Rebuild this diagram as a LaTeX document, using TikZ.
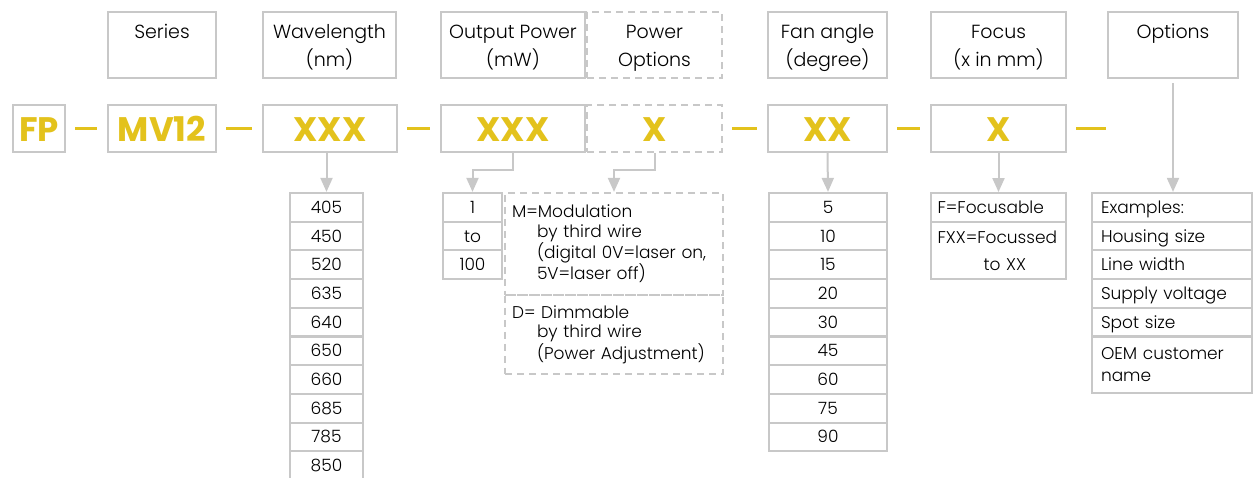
\documentclass[tikz,border=0pt]{standalone}
\usepackage{fontspec}
\setmainfont{Poppins}[UprightFont=* Light,BoldFont=* Bold]
\usetikzlibrary{arrows.meta}
\definecolor{boxgray}{RGB}{200,200,200}
\definecolor{codeyellow}{RGB}{227,194,28}

\begin{document}
\begin{tikzpicture}[x=1pt,y=-1pt,>={Triangle[width=12pt,length=14pt]},
  box/.style={draw=boxgray,line width=2.2pt,inner sep=0pt},
  dbox/.style={box,dash pattern=on 7pt off 5pt},
  head/.style={minimum height=66pt,align=center,text height=45pt,text depth=2pt,font=\fontsize{19}{28}\selectfont},
  code/.style={minimum height=47pt,text height=27pt,text depth=0pt,text=codeyellow,font=\fontsize{34}{34}\selectfont\bfseries},
  cell/.style={box,minimum height=28.7pt,font=\fontsize{17}{19.5}\selectfont},
  one/.style={text height=15pt,text depth=3pt},
  sep/.style={draw=codeyellow,line width=2.5pt,shorten <=9pt,shorten >=10pt},
  arr/.style={->,draw=boxgray,line width=2pt}]
  \useasboundingbox (0,0) rectangle (1259,478);
  \node[box,head,minimum width=108pt] (ser) at (162,45) {Series\\\mbox{}};
  \node[box,head,minimum width=133pt] (wl) at (329.5,45) {Wavelength\\(nm)};
  \node[box,head,minimum width=144pt] (op) at (513,45) {Output Power\\(mW)};
  \node[dbox,head,minimum width=135pt] (po) at (654.5,45) {Power\\Options};
  \node[box,head,minimum width=119pt] (fan) at (827.5,45) {Fan angle\\(degree)};
  \node[box,head,minimum width=135pt] (foc) at (998.5,45) {Focus\\(x in mm)};
  \node[box,head,minimum width=130pt] (opt) at (1173,45) {Options\\\mbox{}};

  \node[box,code,minimum width=52pt] (fpc) at (39,128.5) {FP};
  \node[box,code,minimum width=108pt] (mvc) at (162,128.5) {MV12};
  \node[box,code,minimum width=134pt] (wlc) at (330,128.5) {XXX};
  \node[box,code,minimum width=144pt] (opc) at (513,128.5) {XXX};
  \node[dbox,code,minimum width=135pt] (poc) at (654.5,128.5) {X};
  \node[box,code,minimum width=119pt] (fanc) at (827.5,128.5) {XX};
  \node[box,code,minimum width=135pt] (focc) at (998.5,128.5) {X};
  \coordinate (tail) at (1116,128.5);
  \draw[sep] (fpc) -- (mvc);
  \draw[sep] (mvc) -- (wlc);
  \draw[sep] (wlc) -- (opc);
  \draw[sep] (poc) -- (fanc);
  \draw[sep] (fanc) -- (focc);
  \draw[sep] (focc) -- (tail);

  \foreach \v [count=\i] in {405,450,520,635,640,650,660,685,785,850}
    \node[cell,one,minimum width=73pt] (wl\i) at (326.5,{193+(\i-0.5)*28.7}) {\v};
  \foreach \v [count=\i] in {1,to,100}
    \node[cell,one,minimum width=59pt] (pw\i) at (472.5,{193+(\i-0.5)*28.7}) {\v};
  \foreach \v [count=\i] in {5,10,15,20,30,45,60,75,90}
    \node[cell,one,minimum width=118pt] (fan\i) at (828,{193+(\i-0.5)*28.7}) {\v};
  \node[dbox,minimum height=102pt,text width=204pt,inner xsep=7pt,align=left,font=\fontsize{17}{19.5}\selectfont] (pm) at (614,244)
    {M=Modulation\\\hspace*{25pt}by third wire\\\hspace*{25pt}(digital 0V=laser on,\\\hspace*{25pt}5V=laser off)};
  \node[dbox,minimum height=79pt,text width=204pt,inner xsep=7pt,align=left,font=\fontsize{17}{19.5}\selectfont] (pd) at (614,334.5)
    {D= Dimmable\\\hspace*{25pt}by third wire\\\hspace*{25pt}(Power Adjustment)};
  \node[cell,one,text width=122pt,inner xsep=6.5pt,align=left] (foc1) at (998.5,207.5) {F=Focusable};
  \node[cell,minimum height=57pt,text width=122pt,inner xsep=6.5pt,align=left,font=\fontsize{17}{27}\selectfont] (foc2) at (998.5,250.5) {FXX=Focussed\\\hspace*{46pt}to XX};
  \foreach \v [count=\i] in {Examples:,Housing size,Line width,Supply voltage,Spot size}
    \node[cell,one,text width=142pt,inner xsep=9pt,align=left] (ex\i) at (1172,{193+(\i-0.5)*28.7}) {\v};
  \node[cell,minimum height=56pt,text width=142pt,inner xsep=9pt,align=left,font=\fontsize{17}{22}\selectfont] (ex6) at (1172,365) {OEM customer\\name};

  \draw[arr] (wlc.south -| wl1.north) -- (wl1.north);
  \draw[arr] (opc.south) -- ++(0,17) -| (pw1.north);
  \draw[arr] (poc.south) -- ++(0,17) -| (pm.north);
  \draw[arr] (fanc.south) -- (fan1.north);
  \draw[arr] (focc.south) -- (foc1.north);
  \draw[arr,shorten <=4pt] (opt.south) -- (opt.south |- ex1.north);
\end{tikzpicture}
\end{document}
